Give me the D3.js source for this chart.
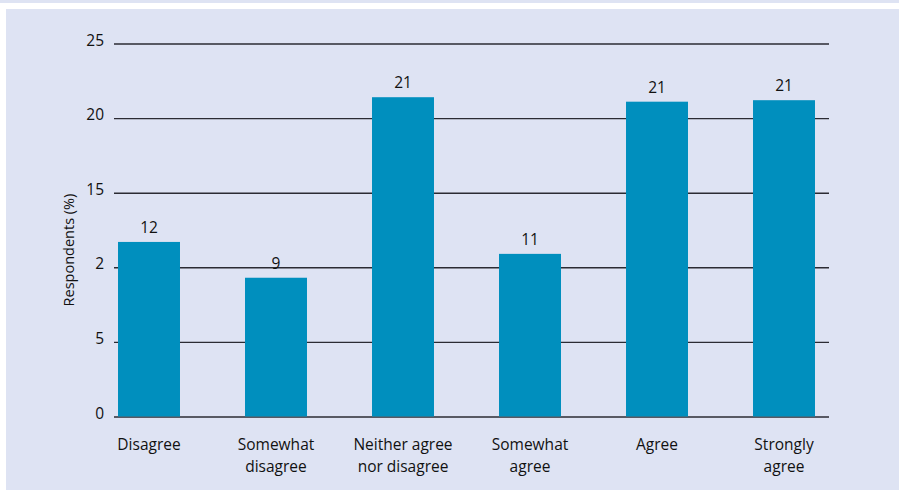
<!DOCTYPE html>
<html>
<head>
<meta charset="utf-8">
<script src="https://cdn.jsdelivr.net/npm/d3@7"></script>
<style>
  html, body { margin: 0; padding: 0; background: #ffffff; }
  svg { display: block; }
  text { font-family: "Open Sans", "Noto Sans", sans-serif; fill: #111111; }
</style>
</head>
<body>
<svg id="chart" width="899" height="491"></svg>
<script>
// Survey response shares by answer category
const categories = [
  ["Disagree"],
  ["Somewhat", "disagree"],
  ["Neither agree", "nor disagree"],
  ["Somewhat", "agree"],
  ["Agree"],
  ["Strongly", "agree"]
];
const percentValues = [11.7, 9.3, 21.4, 10.9, 21.1, 21.2];
const tickValues = [0, 5, 10, 15, 20, 25];
const tickLabels = ["0", "5", "2", "15", "20", "25"];
const yAxisTitle = "Respondents (%)";

const svg = d3.select("#chart");
const W = 899, H = 491;

// panel background
svg.append("rect").attr("x", 0).attr("y", 0).attr("width", W).attr("height", 3).attr("fill", "#dee3f3");
svg.append("rect").attr("x", 6).attr("y", 9).attr("width", W - 6).attr("height", 481).attr("fill", "#dee3f3");

const keys = categories.map(c => c.join(" "));

const x = d3.scaleBand()
  .domain(keys)
  .range([85.5, 847.5])
  .paddingInner(0.512)
  .paddingOuter(0.256);

const y = d3.scaleLinear().domain([0, 25]).range([416.5, 43.5]);

const gridX0 = 114, gridX1 = 829;

// horizontal gridlines and tick labels
const yAxis = d3.axisLeft(y)
  .tickValues(tickValues)
  .tickSize(-(gridX1 - gridX0))
  .tickPadding(10)
  .tickFormat((d, i) => tickLabels[i]);

const gy = svg.append("g")
  .attr("transform", `translate(${gridX0},0)`)
  .call(yAxis);
gy.select(".domain").remove();
gy.selectAll(".tick line")
  .attr("stroke", "#2b2b33")
  .attr("stroke-width", 1.4);
gy.selectAll(".tick text")
  .attr("font-size", 15.5)
  .attr("font-family", null)
  .attr("fill", "#111111")
  .attr("dy", "0.1em");

// bars
svg.append("g").selectAll("rect")
  .data(percentValues)
  .join("rect")
  .attr("x", (d, i) => x(keys[i]))
  .attr("width", x.bandwidth())
  .attr("y", d => y(d))
  .attr("height", d => y(0) - y(d))
  .attr("fill", "#008fbe");

// value labels
svg.append("g").selectAll("text")
  .data(percentValues)
  .join("text")
  .attr("x", (d, i) => x(keys[i]) + x.bandwidth() / 2)
  .attr("y", d => y(d) - 9)
  .attr("text-anchor", "middle")
  .attr("font-size", 15.5)
  .text(d => d3.format(".0f")(d));

// category labels
const cat = svg.append("g").selectAll("text")
  .data(categories)
  .join("text")
  .attr("text-anchor", "middle")
  .attr("font-size", 15.5)
  .attr("transform", (d, i) => `translate(${x(keys[i]) + x.bandwidth() / 2},450)`);
cat.selectAll("tspan")
  .data(d => d)
  .join("tspan")
  .attr("x", 0)
  .attr("y", (d, j) => j * 21.5)
  .text(d => d);

// y-axis title
svg.append("text")
  .attr("transform", "translate(74,250) rotate(-90)")
  .attr("text-anchor", "middle")
  .attr("font-size", 14.5)
  .text(yAxisTitle);
</script>
</body>
</html>
